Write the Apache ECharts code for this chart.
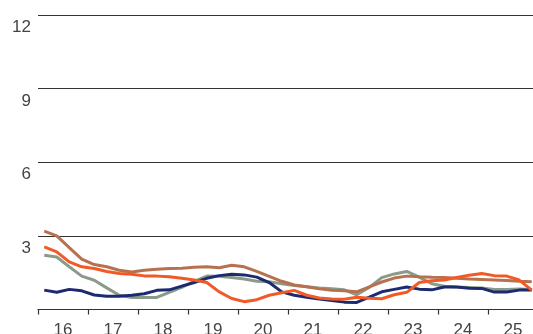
<!DOCTYPE html>
<html>
<head>
<meta charset="utf-8">
<script src="https://cdn.jsdelivr.net/npm/echarts@6/dist/echarts.min.js"></script>
<style>
html,body{margin:0;padding:0;background:#fff;}
#chart{width:533px;height:334px;}
</style>
</head>
<body>
<div id="chart"></div>
<script>
var yearLabels = ['16','17','18','19','20','21','22','23','24','25'];
var quarters = [];
for (var y = 2016; y <= 2025; y++) { for (var q = 1; q <= 4; q++) quarters.push(y + 'Q' + q); }
var yTicks = [3, 6, 9, 12];

var navy = [0.79,0.70,0.82,0.76,0.59,0.54,0.54,0.58,0.64,0.78,0.80,0.95,1.10,1.27,1.38,1.44,1.41,1.32,1.10,0.72,0.58,0.50,0.43,0.37,0.30,0.29,0.50,0.72,0.82,0.92,0.83,0.80,0.92,0.92,0.87,0.86,0.71,0.71,0.79,0.79];
var green = [2.21,2.14,1.74,1.36,1.19,0.88,0.58,0.49,0.49,0.49,0.70,0.90,1.15,1.36,1.35,1.30,1.24,1.15,1.13,1.05,0.98,0.93,0.88,0.85,0.80,0.60,0.90,1.30,1.45,1.55,1.32,1.05,0.95,0.92,0.90,0.88,0.82,0.82,0.84,0.82];
var brown = [3.19,3.00,2.52,2.05,1.83,1.74,1.60,1.53,1.60,1.64,1.67,1.68,1.72,1.74,1.70,1.80,1.74,1.55,1.35,1.15,1.00,0.93,0.84,0.78,0.76,0.72,0.92,1.12,1.28,1.36,1.33,1.31,1.30,1.27,1.24,1.22,1.20,1.18,1.15,1.13];
var orange = [2.55,2.35,1.94,1.74,1.67,1.55,1.47,1.44,1.37,1.36,1.33,1.27,1.20,1.10,0.72,0.45,0.32,0.40,0.58,0.68,0.78,0.58,0.47,0.43,0.42,0.50,0.46,0.44,0.60,0.70,1.10,1.17,1.20,1.30,1.40,1.47,1.38,1.36,1.20,0.79];

var chart = echarts.init(document.getElementById('chart'), null, {renderer:'canvas'});
var font = 'Liberation Sans, Arial, sans-serif';
function line(name, data, color) {
  return {
    name: name, type: 'line', xAxisIndex: 1, data: data,
    symbol: 'none', smooth: false,
    lineStyle: {color: color, width: 3},
    itemStyle: {color: color}
  };
}
chart.setOption({
  animation: false,
  grid: {left: 38, top: 15, width: 500, bottom: 24.5, containLabel: false, outerBoundsMode: 'none'},
  xAxis: [
    {
      type: 'category', data: yearLabels, boundaryGap: true,
      axisLine: {show: true, lineStyle: {color: '#333', width: 1.2}},
      axisTick: {show: true, alignWithLabel: false, interval: 0, length: 5, lineStyle: {color: '#333', width: 1.2}},
      axisLabel: {show: true, interval: 0, margin: 12, color: '#444', fontSize: 17, fontFamily: font},
      splitLine: {show: false}
    },
    {
      type: 'category', data: quarters, boundaryGap: true, show: false,
      axisLine: {show: false}, axisTick: {show: false}, axisLabel: {show: false}
    }
  ],
  yAxis: {
    type: 'value', min: 0, max: 12, interval: 3,
    axisLine: {show: false}, axisTick: {show: false},
    axisLabel: {
      show: true, margin: 7, color: '#444', fontSize: 17, fontFamily: font,
      verticalAlign: 'top', padding: [4, 0, 0, 0],
      formatter: function (v) { return yTicks.indexOf(v) >= 0 ? String(v) : ''; }
    },
    splitLine: {show: true, lineStyle: {color: '#333', width: 1.2}}
  },
  series: [
    line('Green', green, '#8b9b89'),
    line('Brown', brown, '#b7714f'),
    line('Navy', navy, '#1d2a70'),
    line('Orange', orange, '#f15a27')
  ]
});
</script>
</body>
</html>
